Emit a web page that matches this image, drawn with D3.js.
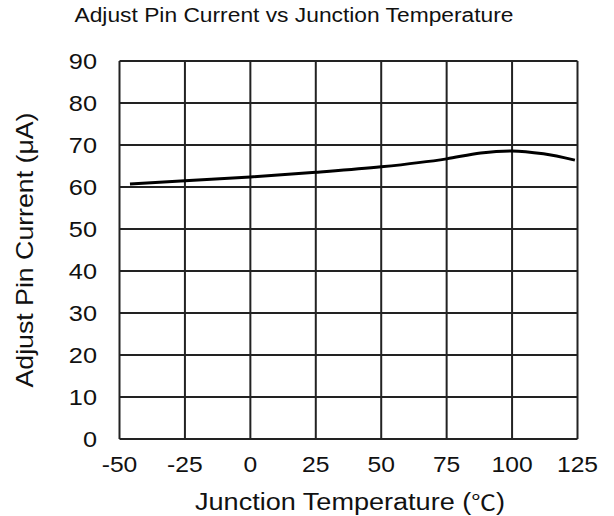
<!DOCTYPE html>
<html>
<head>
<meta charset="utf-8">
<script src="https://cdn.jsdelivr.net/npm/d3@7"></script>
<style>
  body { margin: 0; background: #fff; }
  text { font-family: "Liberation Sans", Arial, sans-serif; fill: #111; }
</style>
</head>
<body>
<svg id="chart" width="614" height="516"></svg>
<script>
// data
var temps = [-46, -25, 0, 25, 50, 75, 88, 100, 112, 124];
var current = [60.7, 61.5, 62.4, 63.5, 64.8, 66.7, 68.1, 68.6, 67.9, 66.4];
var xTicks = [-50, -25, 0, 25, 50, 75, 100, 125];
var yTicks = [0, 10, 20, 30, 40, 50, 60, 70, 80, 90];

var svg = d3.select("#chart");
var plotL = 119.5, plotR = 577.5, plotT = 61, plotB = 439;

var x = d3.scaleLinear().domain([-50, 125]).range([plotL, plotR]);
var y = d3.scaleLinear().domain([0, 90]).range([plotB, plotT]);

// the reference lettering is a bit stretched sideways
function stretch(sel, k) {
    sel.each(function () {
        var w = this.getComputedTextLength();
        d3.select(this).attr("textLength", w * k).attr("lengthAdjust", "spacingAndGlyphs");
    });
}

// grid
svg.append("g").selectAll("line")
    .data(xTicks)
    .enter().append("line")
        .attr("x1", d => x(d)).attr("x2", d => x(d))
        .attr("y1", plotT).attr("y2", plotB)
        .attr("stroke", "#222").attr("stroke-width", 2);
svg.append("g").selectAll("line")
    .data(yTicks)
    .enter().append("line")
        .attr("x1", plotL).attr("x2", plotR)
        .attr("y1", d => y(d)).attr("y2", d => y(d))
        .attr("stroke", "#222").attr("stroke-width", 2);

// tick labels
svg.append("g").selectAll("text")
    .data(xTicks)
    .enter().append("text")
        .attr("x", d => x(d))
        .attr("y", 472)
        .attr("text-anchor", "middle")
        .attr("font-size", 22)
        .text(d => d)
        .call(stretch, 1.12);
svg.append("g").selectAll("text")
    .data(yTicks)
    .enter().append("text")
        .attr("x", 97)
        .attr("y", d => y(d) + 8)
        .attr("text-anchor", "end")
        .attr("font-size", 22)
        .text(d => d)
        .call(stretch, 1.15);

// curve
var line = d3.line()
    .x((d, i) => x(temps[i]))
    .y(d => y(d))
    .curve(d3.curveMonotoneX);
svg.append("path")
    .datum(current)
    .attr("d", line)
    .attr("fill", "none")
    .attr("stroke", "#000")
    .attr("stroke-width", 3);

// titles
svg.append("text")
    .attr("x", 294).attr("y", 22)
    .attr("text-anchor", "middle")
    .attr("font-size", 20)
    .text("Adjust Pin Current vs Junction Temperature")
    .attr("textLength", 439).attr("lengthAdjust", "spacingAndGlyphs");

var xt = svg.append("text")
    .attr("x", 350).attr("y", 510)
    .attr("text-anchor", "middle")
    .attr("font-size", 23);
xt.append("tspan").text("Junction Temperature (");
xt.append("tspan").attr("font-family", "Noto Sans CJK SC").attr("font-size", 21).text("℃");
xt.append("tspan").text(")");
xt.attr("textLength", 310).attr("lengthAdjust", "spacingAndGlyphs");

svg.append("text")
    .attr("transform", "translate(33,250) rotate(-90)")
    .attr("text-anchor", "middle")
    .attr("font-size", 24)
    .text("Adjust Pin Current (μA)")
    .attr("textLength", 275).attr("lengthAdjust", "spacingAndGlyphs");
</script>
</body>
</html>
